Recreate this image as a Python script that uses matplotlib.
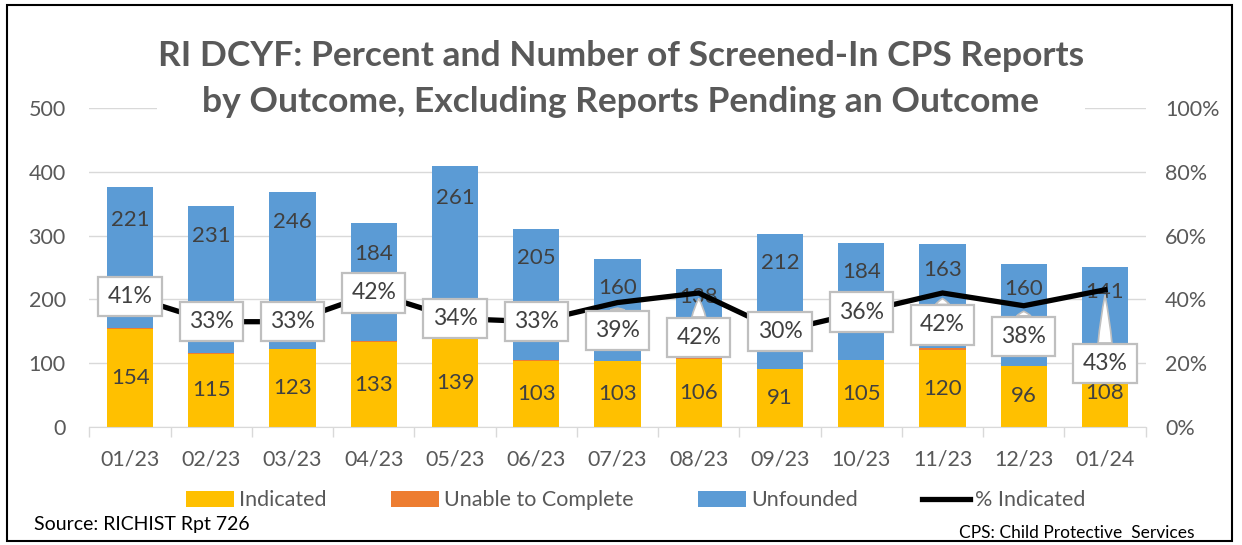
import matplotlib.pyplot as plt
import numpy as np
from matplotlib.patches import Rectangle

plt.rcParams['font.family'] = ['Lato', 'DejaVu Sans']

# data
months = ['01/23', '02/23', '03/23', '04/23', '05/23', '06/23', '07/23',
          '08/23', '09/23', '10/23', '11/23', '12/23', '01/24']
indicated = [154, 115, 123, 133, 139, 103, 103, 106, 91, 105, 120, 96, 108]
unable = [1, 1, 0, 2, 9, 2, 0, 3, 0, 0, 4, 0, 1]
unfounded = [221, 231, 246, 184, 261, 205, 160, 138, 212, 184, 163, 160, 141]
pct_indicated = [41, 33, 33, 42, 34, 33, 39, 42, 30, 36, 42, 38, 43]

# label placement (points below anchor)
pct_drop = [0, 0, 0, 0, 0, 0, 20, 32, 0, 0, 23, 22, 53]
unf_drop = [24, 22, 22, 22, 23, 21, 21, 20, 21, 21, 19, 18, 18]

c_ind = '#FFC000'
c_una = '#ED7D31'
c_unf = '#5B9BD5'
txt = '#404040'
tick_c = '#595959'
grid_c = '#D9D9D9'

fig = plt.figure(figsize=(12.42, 5.45), dpi=100)
ax = fig.add_axes([0.072, 0.2165, 0.8504, 0.5855])
x = np.arange(len(months))
ind = np.array(indicated)
una = np.array(unable)
unf = np.array(unfounded)

w = 0.57
ax.bar(x, ind, w, color=c_ind, label='Indicated', zorder=2)
ax.bar(x, una, w, bottom=ind, color=c_una, label='Unable to Complete', zorder=2)
ax.bar(x, unf, w, bottom=ind + una, color=c_unf, label='Unfounded', zorder=2)

for i in range(len(x)):
    ax.text(x[i], ind[i] / 2, str(indicated[i]), ha='center', va='center',
            fontsize=16, color=txt, zorder=3)
    top = ind[i] + una[i] + unf[i]
    ax.annotate(str(unfounded[i]), (x[i], top), xytext=(0, -unf_drop[i]),
                textcoords='offset points', ha='center', va='center',
                fontsize=16, color=txt, zorder=3)

ax.set_xlim(-0.5, len(x) - 0.5)
ax.set_ylim(0, 500)
ax.set_yticks(range(0, 501, 100))
ax.set_xticks(x)
ax.set_xticklabels(months)
ax.set_xticks(np.arange(-0.5, len(x), 1), minor=True)
ax.tick_params(axis='x', which='major', length=0, pad=16, labelsize=15.5, labelcolor=tick_c)
ax.tick_params(axis='x', which='minor', length=7, color=grid_c, width=1)
ax.tick_params(axis='y', length=0, pad=17, labelsize=15.5, labelcolor=tick_c)
ax.grid(axis='y', color=grid_c, linewidth=1, zorder=0)
ax.set_axisbelow(True)
for s in ['top', 'left', 'right']:
    ax.spines[s].set_visible(False)
ax.spines['bottom'].set_color(grid_c)

ax2 = ax.twinx()
ax2.plot(x, np.array(pct_indicated) / 100, color='black', linewidth=3.8,
         label='% Indicated', zorder=4, solid_joinstyle='miter')
ax2.set_ylim(0, 1)
ax2.set_yticks(np.arange(0, 1.01, 0.2))
ax2.set_yticklabels([f'{int(v * 100)}%' for v in np.arange(0, 1.01, 0.2)])
ax2.tick_params(axis='y', length=0, pad=14, labelsize=15.5, labelcolor=tick_c)
for s in ['top', 'left', 'right', 'bottom']:
    ax2.spines[s].set_visible(False)

box = dict(boxstyle='square,pad=0.4', fc='white', ec='#BFBFBF', lw=1.6)
for i, p in enumerate(pct_indicated):
    if pct_drop[i] == 0:
        ax2.annotate(f'{p}%', (x[i], p / 100), ha='center', va='center',
                     fontsize=16.5, color=txt, bbox=box, zorder=5)
    else:
        ax2.annotate(f'{p}%', (x[i], p / 100), xytext=(0, -pct_drop[i]),
                     textcoords='offset points', ha='center', va='center',
                     fontsize=16.5, color=txt, bbox=box, zorder=5,
                     arrowprops=dict(arrowstyle='wedge,tail_width=0.6,shrink_factor=0.6',
                                     fc='white', ec='#BFBFBF', lw=1.2,
                                     shrinkA=0, shrinkB=4))

fig.text(0.5, 0.855, 'RI DCYF: Percent and Number of Screened-In CPS Reports\n'
         'by Outcome, Excluding Reports Pending an Outcome',
         ha='center', va='center', fontsize=25.5, fontweight='bold', color=tick_c,
         linespacing=1.55, bbox=dict(fc='white', ec='none', pad=1), zorder=10)

h1, l1 = ax.get_legend_handles_labels()
h2, l2 = ax2.get_legend_handles_labels()
fig.legend(h1 + h2, l1 + l2, loc='center', bbox_to_anchor=(0.512, 0.082), ncol=4,
           frameon=False, fontsize=15.5, labelcolor=tick_c, handlelength=2.2,
           handleheight=0.75, handletextpad=0.25, columnspacing=3.0)

fig.text(0.027, 0.037, 'Source: RICHIST Rpt 726', fontsize=14, color='black',
         ha='left', va='center')
fig.text(0.962, 0.022, 'CPS: Child Protective  Services', fontsize=12.5, color='black',
         ha='right', va='center')

fig.patches.append(Rectangle((0.006, 0.008), 0.986, 0.982, transform=fig.transFigure,
                             fill=False, ec='black', lw=1.5))

fig.savefig('out.png', dpi=100)
